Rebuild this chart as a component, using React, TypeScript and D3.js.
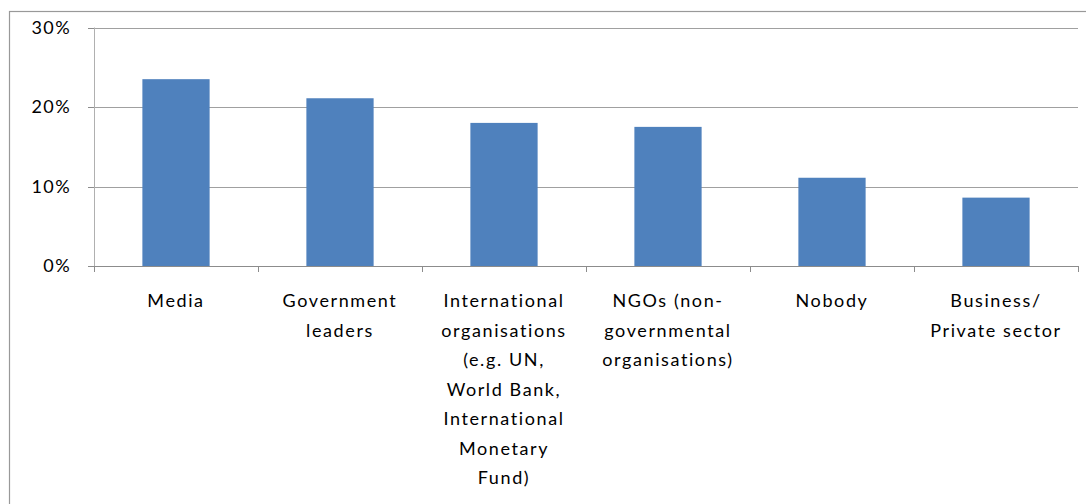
import React from "react";
import * as d3 from "d3";

const categories = ["Media", "Government leaders", "International organisations", "NGOs", "Nobody", "Business/Private sector"];
const values = [23.5, 21.1, 18.0, 17.5, 11.1, 8.6];
const labelLines = [
  ["Media"],
  ["Government", "leaders"],
  ["International", "organisations", "(e.g. UN,", "World Bank,", "International", "Monetary", "Fund)"],
  ["NGOs (non-", "governmental", "organisations)"],
  ["Nobody"],
  ["Business/", "Private sector"],
];
const yTicks = [0, 10, 20, 30];

export default function App() {
  const W = 1086, H = 504;
  const left = 94, right = 1078, top = 27.5, bottom = 266;
  const x = d3.scaleBand<string>().domain(categories).range([left, right]).paddingInner(0.59).paddingOuter(0.295);
  const y = d3.scaleLinear().domain([0, 30]).range([bottom, top]);
  const step = x.step();
  const font = "Lato, 'Open Sans', sans-serif";
  return (
    <svg width={W} height={H} style={{ position: "absolute", left: 0, top: 0, background: "#fff" }}>
      <rect x={9.5} y={11.5} width={1200} height={600} fill="#fff" stroke="#999" strokeWidth={1.2} />
      {yTicks.filter(t => t > 0).map(t => (
        <line key={"g" + t} x1={left} x2={right} y1={Math.round(y(t)) + 0.5} y2={Math.round(y(t)) + 0.5} stroke="#a0a0a0" strokeWidth={1} />
      ))}
      {categories.map((c, i) => (
        <rect key={c} x={x(c)} y={y(values[i])} width={x.bandwidth()} height={bottom - y(values[i])} fill="#4f81bd" />
      ))}
      <line x1={left + 0.5} x2={left + 0.5} y1={top} y2={bottom} stroke="#b0b0b0" strokeWidth={1} />
      <line x1={left} x2={right} y1={bottom + 0.5} y2={bottom + 0.5} stroke="#8c8c8c" strokeWidth={1} />
      {yTicks.map(t => (
        <g key={"t" + t}>
          <line x1={88} x2={left} y1={Math.round(y(t)) + 0.5} y2={Math.round(y(t)) + 0.5} stroke="#8c8c8c" />
          <text x={71} y={y(t)} dy="0.36em" textAnchor="end" fontFamily={font} fontSize={18} letterSpacing={1.4} fill="#000">{t}%</text>
        </g>
      ))}
      {d3.range(categories.length + 1).map(i => (
        <line key={"ct" + i} x1={Math.round(left + i * step) + 0.5} x2={Math.round(left + i * step) + 0.5} y1={bottom} y2={bottom + 6} stroke="#8c8c8c" />
      ))}
      {categories.map((c, i) => (
        <text key={"l" + c} textAnchor="middle" fontFamily={font} fontSize={18} letterSpacing={1.6} fill="#000">
          {labelLines[i].map((ln, j) => (
            <tspan key={j} x={(x(c) as number) + x.bandwidth() / 2} y={307 + j * 29.5}>{ln}</tspan>
          ))}
        </text>
      ))}
    </svg>
  );
}
